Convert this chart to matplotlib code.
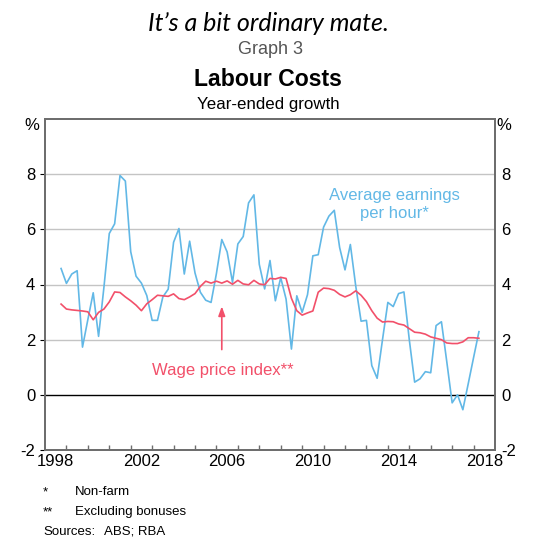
import matplotlib

matplotlib.use("Agg")
import matplotlib.pyplot as plt
import numpy as np

# quarterly, first observation Sep 1998
START_YEAR = 1998.75
EARNINGS = [
    4.58, 4.04, 4.38, 4.50, 1.73, 2.73, 3.70, 2.12, 3.90, 5.85,
    6.20, 7.95, 7.75, 5.19, 4.30, 4.05, 3.60, 2.70, 2.70, 3.55,
    3.83, 5.53, 6.03, 4.38, 5.57, 4.42, 3.72, 3.43, 3.35, 4.40,
    5.63, 5.18, 4.08, 5.47, 5.74, 6.96, 7.25, 4.73, 3.84, 4.87,
    3.41, 4.25, 3.47, 1.66, 3.59, 2.99, 3.63, 5.04, 5.08, 6.08,
    6.48, 6.69, 5.34, 4.53, 5.45, 3.95, 2.67, 2.70, 1.06, 0.60,
    2.00, 3.35, 3.20, 3.67, 3.73, 2.00, 0.46, 0.58, 0.84, 0.80,
    2.51, 2.65, 1.20, -0.29, 0.00, -0.54, 0.40, 1.35, 2.29,
]
WPI = [
    3.29, 3.11, 3.08, 3.06, 3.04, 3.01, 2.72, 2.99, 3.11, 3.37,
    3.73, 3.71, 3.55, 3.41, 3.25, 3.05, 3.30, 3.45, 3.61, 3.59,
    3.57, 3.66, 3.49, 3.45, 3.55, 3.67, 3.93, 4.12, 4.05, 4.12,
    4.05, 4.13, 4.01, 4.15, 4.02, 3.99, 4.15, 4.02, 3.99, 4.22,
    4.20, 4.26, 4.22, 3.50, 3.05, 2.89, 2.97, 3.04, 3.72, 3.87,
    3.85, 3.79, 3.64, 3.55, 3.63, 3.77, 3.61, 3.38, 3.05, 2.78,
    2.64, 2.66, 2.65, 2.57, 2.53, 2.40, 2.27, 2.25, 2.20, 2.10,
    2.05, 2.00, 1.88, 1.86, 1.86, 1.92, 2.07, 2.07, 2.05,
]
YEAR_LABELS = [1998, 2002, 2006, 2010, 2014, 2018]
Y_TICKS = [-2, 0, 2, 4, 6, 8]

BLUE = "#62b8e6"
RED = "#f2506a"
SPINE = "#6d6d6d"
W, H = 541, 549

plt.rcParams["font.family"] = ["Liberation Sans", "DejaVu Sans"]


def fx(px):
    return px / W


def fy(py):
    return 1 - py / H


fig = plt.figure(figsize=(W / 100, H / 100), dpi=100)
ax = fig.add_axes([fx(45), fy(450), (495 - 45) / W, (450 - 119) / H])

t = START_YEAR + 0.25 * np.arange(len(EARNINGS))
t_wpi = START_YEAR + 0.25 * np.arange(len(WPI))

for y in [2, 4, 6, 8]:
    ax.axhline(y, color="#c4c4c4", lw=1.0, zorder=1)
ax.axhline(0, color="black", lw=1.0, zorder=1)

ax.plot(t, EARNINGS, color=BLUE, lw=1.2, zorder=3)
ax.plot(t_wpi, WPI, color=RED, lw=1.2, zorder=3)

ax.set_xlim(1998, 2019)
ax.set_ylim(-2, 10)

# year ticks inside, labels centred on each year
ax.set_xticks(np.arange(1999, 2019))
ax.set_xticklabels([])
ax.set_xticks([y + 0.5 for y in YEAR_LABELS], minor=True)
ax.set_xticklabels([str(y) for y in YEAR_LABELS], minor=True)
ax.tick_params(axis="x", which="major", direction="in", length=3.6, width=1.0, color=SPINE)
ax.tick_params(axis="x", which="minor", length=0, pad=3, labelsize=12)

ax.set_yticks(Y_TICKS)
ax.set_yticklabels([str(v) for v in Y_TICKS])
ax.tick_params(axis="y", left=False, right=False, labelsize=12, pad=3.5)

# right-hand scale sits tighter to the axis
ax_r = ax.twinx()
ax_r.set_ylim(ax.get_ylim())
ax_r.set_yticks(Y_TICKS)
ax_r.set_yticklabels([str(v) for v in Y_TICKS])
ax_r.tick_params(axis="y", right=False, labelsize=12, pad=1)

ax.text(-0.012, 9.75, "%", transform=ax.get_yaxis_transform(), ha="right", va="center", fontsize=12)
ax.text(1.003, 9.75, "%", transform=ax.get_yaxis_transform(), ha="left", va="center", fontsize=12)

for a in (ax, ax_r):
    for side in ["left", "right", "top", "bottom"]:
        a.spines[side].set_color(SPINE)
        a.spines[side].set_linewidth(1.3)

ax.text(2014.33, 6.9, "Average earnings\nper hour*", color=BLUE, fontsize=12,
        ha="center", va="center", multialignment="center", linespacing=1.3)
ax.text(2002.99, 0.88, "Wage price index**", color=RED, fontsize=12, ha="left", va="center")
ax.annotate("", xy=(2006.25, 3.31), xytext=(2006.25, 1.54),
            arrowprops=dict(arrowstyle="-|>,head_length=0.55,head_width=0.2", color=RED, lw=1.2))

fig.text(fx(268), fy(23), "It\u2019s a bit ordinary mate.", family="Lato", style="italic",
         fontsize=18, ha="center", va="center")
fig.text(fx(270), fy(50), "Graph 3", fontsize=13, color="#555555", ha="center", va="center")
fig.text(fx(268), fy(79), "Labour Costs", fontsize=16.6, weight="bold", ha="center", va="center")
fig.text(fx(268), fy(104), "Year-ended growth", fontsize=12.2, ha="center", va="center")

fig.text(fx(43), fy(492), "*", fontsize=9.5, ha="left", va="center")
fig.text(fx(75), fy(492), "Non-farm", fontsize=9.5, ha="left", va="center")
fig.text(fx(43), fy(512), "**", fontsize=9.5, ha="left", va="center")
fig.text(fx(75), fy(512), "Excluding bonuses", fontsize=9.5, ha="left", va="center")
fig.text(fx(43), fy(532), "Sources:", fontsize=9.5, ha="left", va="center")
fig.text(fx(104), fy(532), "ABS; RBA", fontsize=9.5, ha="left", va="center")

fig.savefig("out.png", dpi=100)
